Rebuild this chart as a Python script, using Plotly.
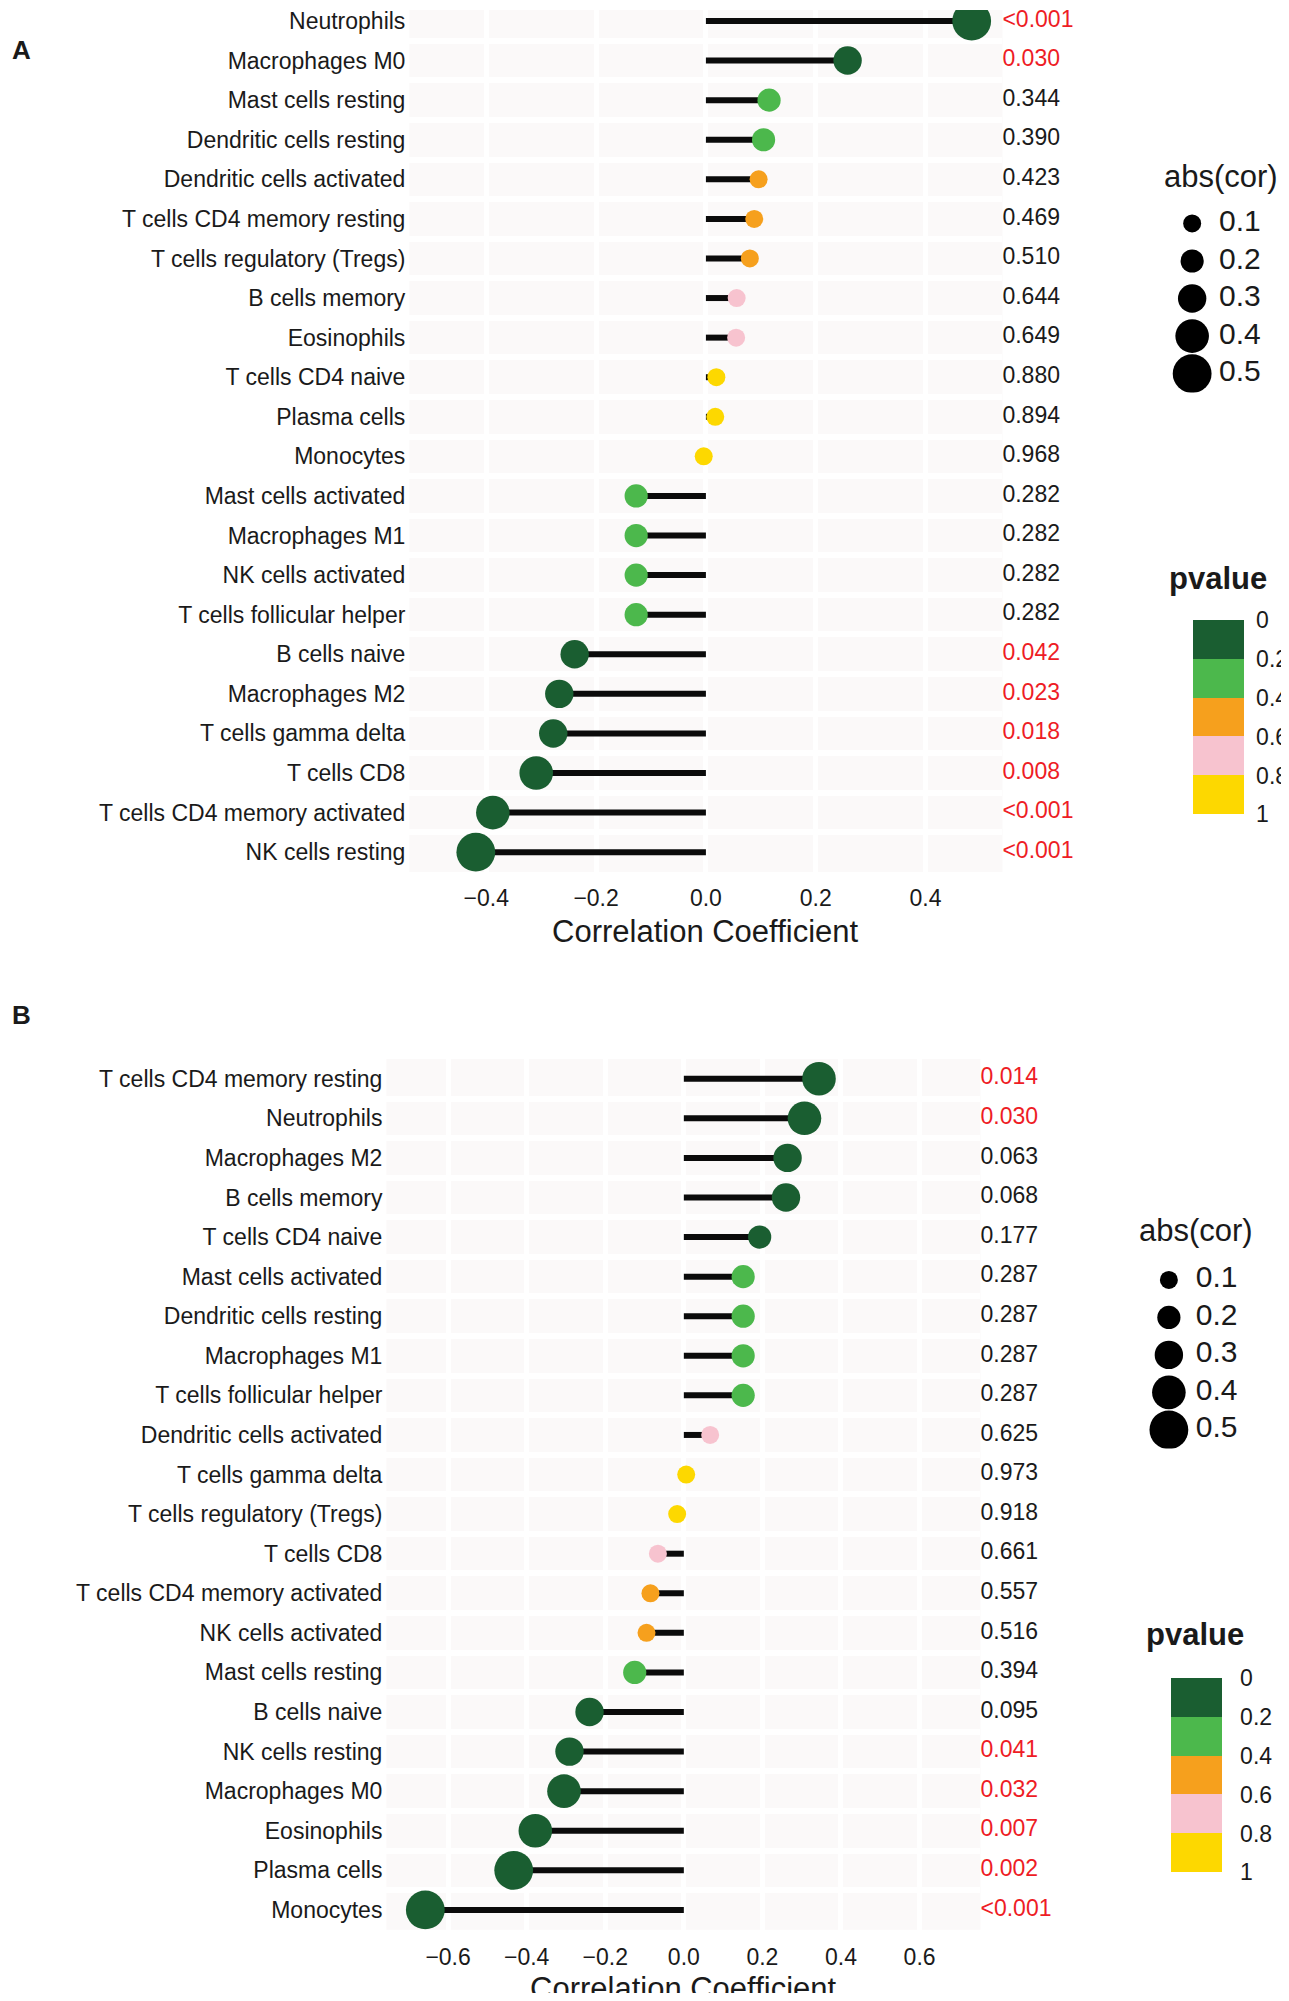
import math
import plotly.graph_objects as go

# ---- data, panel A (top to bottom) ----
CELLS_A = ["Neutrophils", "Macrophages M0", "Mast cells resting", "Dendritic cells resting",
           "Dendritic cells activated", "T cells CD4 memory resting", "T cells regulatory (Tregs)",
           "B cells memory", "Eosinophils", "T cells CD4 naive", "Plasma cells", "Monocytes",
           "Mast cells activated", "Macrophages M1", "NK cells activated", "T cells follicular helper",
           "B cells naive", "Macrophages M2", "T cells gamma delta", "T cells CD8",
           "T cells CD4 memory activated", "NK cells resting"]
COR_A = [0.484, 0.258, 0.115, 0.105, 0.096, 0.088, 0.080, 0.056, 0.055, 0.019, 0.017, -0.004,
         -0.127, -0.127, -0.127, -0.127, -0.239, -0.267, -0.278, -0.309, -0.388, -0.419]
P_A = [0.0004, 0.030, 0.344, 0.390, 0.423, 0.469, 0.510, 0.644, 0.649, 0.880, 0.894, 0.968,
       0.282, 0.282, 0.282, 0.282, 0.042, 0.023, 0.018, 0.008, 0.0003, 0.0002]

# ---- data, panel B (top to bottom) ----
CELLS_B = ["T cells CD4 memory resting", "Neutrophils", "Macrophages M2", "B cells memory",
           "T cells CD4 naive", "Mast cells activated", "Dendritic cells resting", "Macrophages M1",
           "T cells follicular helper", "Dendritic cells activated", "T cells gamma delta",
           "T cells regulatory (Tregs)", "T cells CD8", "T cells CD4 memory activated",
           "NK cells activated", "Mast cells resting", "B cells naive", "NK cells resting",
           "Macrophages M0", "Eosinophils", "Plasma cells", "Monocytes"]
COR_B = [0.344, 0.307, 0.264, 0.260, 0.193, 0.151, 0.151, 0.151, 0.151, 0.067, 0.006, -0.017,
         -0.066, -0.085, -0.095, -0.125, -0.240, -0.291, -0.305, -0.378, -0.433, -0.658]
P_B = [0.014, 0.030, 0.063, 0.068, 0.177, 0.287, 0.287, 0.287, 0.287, 0.625, 0.973, 0.918,
       0.661, 0.557, 0.516, 0.394, 0.095, 0.041, 0.032, 0.007, 0.002, 0.0004]

SIZE_BREAKS = [0.1, 0.2, 0.3, 0.4, 0.5]
P_BREAKS = [0, 0.2, 0.4, 0.6, 0.8, 1]
X_TICKS_A = [-0.4, -0.2, 0.0, 0.2, 0.4]
X_TICKS_B = [-0.6, -0.4, -0.2, 0.0, 0.2, 0.4, 0.6]

# the page puts the figure 8px down; positions below are reference pixels,
# shifted back by that offset
MX, MY = 0, 8
W, H = 1289 - 8, 2001 - 16
FONT = "Liberation Sans, Arial, sans-serif"
INK = "#1a1a1a"
RED = "#ee1c25"
PANEL_BG = "#fbf9f9"

# p-value bins, colour for 1 - p so that 0 sits on top of the colour bar
BIN_COLORS = ["#fdd800", "#f7c3cf", "#f6a01d", "#4cb84c", "#1a5e31"]
COLORSCALE = []
for i, c in enumerate(BIN_COLORS):
    COLORSCALE.append([i / 5, c])
    COLORSCALE.append([(i + 1) / 5, c])


def dot_size(v):
    b = min(math.ceil(round(abs(v) * 10, 6)), 5) / 10
    return 12.8 + 52 * b


def p_label(p):
    return "<0.001" if p < 0.001 else f"{p:.3f}"


def px_x(p):
    return min(1.0, max(0.0, (p - MX) / W))


def px_y(p):
    return min(1.0, max(0.0, 1 - (p - MY) / H))


fig = go.Figure()


def add_panel(cells, cor, pv, xa, ya, xmax, cb_left, cb_top, cb_gap):
    fig.add_shape(type="rect", xref=f"{xa} domain", yref=f"{ya} domain",
                  x0=0, x1=1, y0=0, y1=1, fillcolor=PANEL_BG,
                  line=dict(width=0), layer="below")
    sx, sy = [], []
    for c, v in zip(cells, cor):
        sx += [0, v, None]
        sy += [c, c, None]
    fig.add_trace(go.Scatter(x=sx, y=sy, mode="lines", xaxis=xa, yaxis=ya,
                             line=dict(color="#0b0b0b", width=6), hoverinfo="skip",
                             showlegend=False))
    fig.add_trace(go.Scatter(
        x=cor, y=cells, mode="markers", xaxis=xa, yaxis=ya, showlegend=False,
        marker=dict(size=[dot_size(v) for v in cor], color=[1 - p for p in pv],
                    colorscale=COLORSCALE, cmin=0, cmax=1, opacity=1,
                    line=dict(width=0), showscale=True,
                    colorbar=dict(x=px_x(cb_left), xanchor="left", xpad=0,
                                  y=px_y(cb_top), yanchor="top", ypad=0,
                                  len=194, lenmode="pixels", thickness=51,
                                  thicknessmode="pixels", outlinewidth=0,
                                  tickvals=[1 - b for b in P_BREAKS],
                                  ticktext=[f"{b:g}" for b in P_BREAKS],
                                  ticks="outside", ticklen=cb_gap,
                                  tickcolor="rgba(0,0,0,0)",
                                  tickfont=dict(size=23, color=INK, family=FONT)))))
    fig.add_trace(go.Scatter(
        x=[xmax] * len(cells), y=cells, mode="text", xaxis=xa, yaxis=ya,
        text=[p_label(p) for p in pv], textposition="middle right", cliponaxis=False,
        textfont=dict(size=23, family=FONT,
                      color=[RED if p < 0.05 else INK for p in pv]),
        showlegend=False, hoverinfo="skip"))


add_panel(CELLS_A, COR_A, P_A, "x", "y", 0.54, 1187, 619, 8)
add_panel(CELLS_B, COR_B, P_B, "x2", "y2", 0.755, 1165, 1678, 14)


def add_size_legend(xa, ya):
    fig.add_trace(go.Scatter(
        x=[0] * len(SIZE_BREAKS), y=list(range(len(SIZE_BREAKS))), mode="markers",
        xaxis=xa, yaxis=ya, showlegend=False, hoverinfo="skip",
        marker=dict(size=[dot_size(b) for b in SIZE_BREAKS], color="#000000",
                    opacity=1, line=dict(width=0))))
    fig.add_trace(go.Scatter(
        x=[27] * len(SIZE_BREAKS), y=list(range(len(SIZE_BREAKS))), mode="text",
        xaxis=xa, yaxis=ya, showlegend=False, hoverinfo="skip",
        text=[f"{b:g}" for b in SIZE_BREAKS], textposition="middle right",
        textfont=dict(size=30, family=FONT, color=INK), cliponaxis=False))


add_size_legend("x3", "y3")
add_size_legend("x4", "y4")

ROW = 39.62
axis_common = dict(showline=False, zeroline=False, fixedrange=True)
xfont = dict(size=23, color=INK, family=FONT)


def main_x(domain, rng, ticks, standoff, anchor):
    return dict(domain=domain, range=rng, tickvals=ticks, tickformat=".1f",
                showgrid=True, gridcolor="white", gridwidth=5, ticks="",
                ticklabelstandoff=standoff, tickfont=xfont, anchor=anchor,
                **axis_common)


def main_y(domain, cells, rng, anchor):
    return dict(domain=domain, type="category", categoryorder="array",
                categoryarray=cells, range=rng, tickson="boundaries",
                showgrid=True, gridcolor="white", gridwidth=6, ticks="",
                ticklabelstandoff=3, tickfont=xfont, anchor=anchor, **axis_common)


def blank(domain, rng, anchor):
    return dict(domain=domain, range=rng, visible=False, showgrid=False,
                anchor=anchor, **axis_common)


# panel A starts above the visible area: first row centre at y=19 px
a_top = MY
a_bottom = 19 + 21.5 * ROW
right_edge = W + MX
fig.update_layout(
    width=W, height=H,
    margin=dict(l=0, r=0, t=0, b=0),
    paper_bgcolor="white", plot_bgcolor="rgba(0,0,0,0)",
    font=dict(family=FONT, color=INK),
    xaxis=main_x([px_x(402), px_x(996)], [-0.54, 0.54], X_TICKS_A, 10, "y"),
    yaxis=main_y([px_y(a_bottom), px_y(a_top)], CELLS_A,
                 [21.5, -(19 - a_top) / ROW], "x"),
    xaxis2=main_x([px_x(379), px_x(974)], [-0.757, 0.755], X_TICKS_B, 11, "y2"),
    yaxis2=main_y([px_y(1058 + 22 * ROW), px_y(1058)], CELLS_B, [21.5, -0.5], "x2"),
    xaxis3=blank([px_x(1140), 1], [-46, right_edge - 1186], "y3"),
    yaxis3=blank([px_y(390.8), px_y(202.9)], [4.5, -0.5], "x3"),
    xaxis4=blank([px_x(1120), 1], [-42.7, right_edge - 1162.7], "y4"),
    yaxis4=blank([px_y(1448), px_y(1260.5)], [4.5, -0.5], "x4"),
)

ann = [
    ("<b>A</b>", 2, 48, 26, "left"),
    ("<b>B</b>", 2, 1014, 26, "left"),
    ("Correlation Coefficient", 699, 930, 31, "center"),
    ("Correlation Coefficient", 677, 1988, 31, "center"),
    ("abs(cor)", 1215, 175, 31, "center"),
    ("abs(cor)", 1190, 1230, 31, "center"),
    ("<b>pvalue</b>", 1212, 577, 31, "center"),
    ("<b>pvalue</b>", 1189, 1634, 31, "center"),
]
for text, x, y, size, anchor in ann:
    fig.add_annotation(text=text, x=px_x(x), y=1 - (y - MY) / H,
                       xref="paper", yref="paper", xanchor=anchor, yanchor="middle",
                       showarrow=False, font=dict(size=size, color=INK, family=FONT))

fig.write_html("out.html")
